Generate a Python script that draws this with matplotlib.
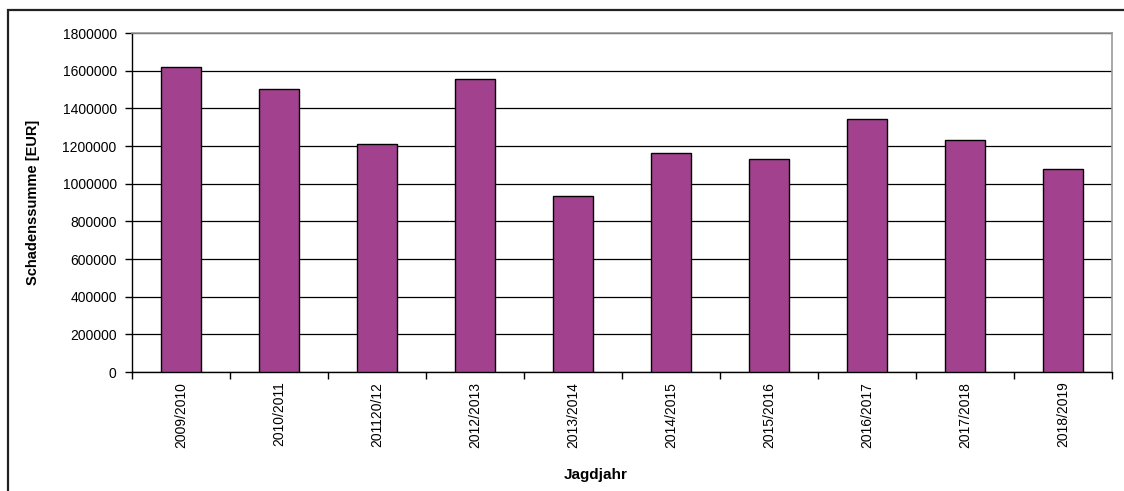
import matplotlib
matplotlib.use("Agg")
import matplotlib.pyplot as plt
from matplotlib.patches import Rectangle
import numpy as np

plt.rcParams["font.family"] = ["Liberation Sans", "DejaVu Sans"]

# Hunting years and total damage sums
jagdjahre = ["2009/2010", "2010/2011", "201120/12", "2012/2013", "2013/2014",
             "2014/2015", "2015/2016", "2016/2017", "2017/2018", "2018/2019"]
schadenssumme = [1620000, 1505000, 1212000, 1555000, 935000,
                 1165000, 1130000, 1342000, 1234000, 1077000]
y_ticks = [0, 200000, 400000, 600000, 800000, 1000000,
           1200000, 1400000, 1600000, 1800000]

W, H = 1124, 491
fig = plt.figure(figsize=(W / 100, H / 100), dpi=100)
ax = fig.add_axes([132 / W, 1 - 372 / H, (1112 - 132) / W, (372 - 33) / H])

x = np.arange(len(jagdjahre))
ax.bar(x, schadenssumme, width=0.4, color="#A2428E", edgecolor="black",
       linewidth=1.0, zorder=3)

ax.set_xlim(-0.5, len(jagdjahre) - 0.5)
ax.set_ylim(0, 1800000)
ax.set_yticks(y_ticks)
ax.set_yticklabels([str(v) for v in y_ticks], fontsize=10)
ax.yaxis.grid(True, color="black", linewidth=0.9, zorder=0)

# category labels centred under bars, tick marks on category boundaries
ax.set_xticks(x)
ax.set_xticklabels(jagdjahre, rotation=90, fontsize=10)
ax.tick_params(axis="x", length=0, pad=7)
ax.set_xticks(np.arange(len(jagdjahre) + 1) - 0.5, minor=True)
ax.tick_params(axis="x", which="minor", length=5, width=1, direction="out",
               color="black")
ax.tick_params(axis="y", length=5, width=1, direction="out", pad=6)

for side in ("left", "bottom"):
    ax.spines[side].set_color("black")
    ax.spines[side].set_linewidth(1)
for side in ("top", "right"):
    ax.spines[side].set_color("#999999")
    ax.spines[side].set_linewidth(1.2)

fig.text(33 / W, 1 - 202 / H, "Schadenssumme [EUR]", rotation=90,
         ha="center", va="center", fontsize=10.5, fontweight="bold")
fig.text(596 / W, 1 - 475 / H, "Jagdjahr", ha="center", va="center",
         fontsize=11, fontweight="bold")

# chart frame
fig.patches.append(Rectangle((8 / W, -0.1), 1.2, 1 - 10 / H + 0.1,
                             transform=fig.transFigure, fill=False,
                             edgecolor="#222222", linewidth=1.6))

fig.savefig("out.png", dpi=100)
